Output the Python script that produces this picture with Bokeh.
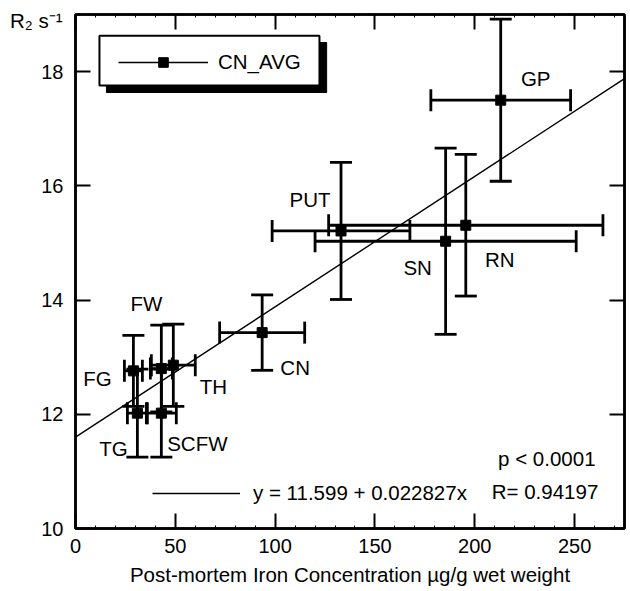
from bokeh.plotting import figure
from bokeh.models import (ColumnDataSource, Whisker, TeeHead, Range1d, LinearAxis, FixedTicker,
                          Legend, LegendItem, Label, BoxAnnotation)
from bokeh.core.properties import value
from bokeh.embed import file_html
from bokeh.resources import INLINE

# ---------------- data ----------------
regions = ["GP", "PUT", "SN", "RN", "CN", "TH", "FW", "FG", "TG", "SCFW"]
iron = [213.0, 133.0, 185.4, 195.5, 93.5, 49.0, 43.0, 29.0, 31.0, 43.0]       # µg/g wet weight
iron_sd = [35.0, 34.5, 65.4, 68.7, 21.3, 11.0, 5.5, 4.5, 5.0, 7.5]
r2 = [17.50, 15.21, 15.03, 15.31, 13.43, 12.86, 12.80, 12.76, 12.02, 12.02]   # R2 s^-1
r2_sd = [1.42, 1.20, 1.63, 1.24, 0.66, 0.72, 0.76, 0.62, 0.77, 0.77]
x_ticks = [0, 50, 100, 150, 200, 250]
x_minor_ticks = [0, 10, 20, 30, 40, 50, 60, 70, 80, 90, 100, 110, 120, 130, 140, 150,
                 160, 170, 180, 190, 200, 210, 220, 230, 240, 250, 260, 270]
y_ticks = [10, 12, 14, 16, 18]
fit_intercept = 11.599
fit_slope = 0.022827
fit_r = 0.94197
p_text = "p < 0.0001"
series_name = "CN_AVG"
x_title = "Post-mortem Iron Concentration \u00b5g/g wet weight"
y_title = "R\u2082 s\u207b\u00b9"

# label offsets (screen px) of the region names from their points
label_dx = [35, -31, -28, 34, 33, 40, -15, -36, -24, 36]
label_dy = [-22, -31, 26, 34, 35, 21, -65, 8, 35, 30]

FONT = "Liberation Sans"
FS = "20.5px"

src = ColumnDataSource(dict(
    name=regions, iron=iron, r2=r2,
    x_lo=[v - e for v, e in zip(iron, iron_sd)],
    x_hi=[v + e for v, e in zip(iron, iron_sd)],
    y_lo=[v - e for v, e in zip(r2, r2_sd)],
    y_hi=[v + e for v, e in zip(r2, r2_sd)],
    dx=label_dx, dy=label_dy,
))

p = figure(width=630, height=591, output_backend="svg", toolbar_location=None,
           x_range=Range1d(0, 275), y_range=Range1d(10, 19),
           min_border_left=75, min_border_right=6, min_border_top=14, min_border_bottom=63,
           background_fill_color="white", border_fill_color="white")
p.xgrid.visible = False
p.ygrid.visible = False
p.outline_line_color = "black"
p.outline_line_width = 2.5


def style(ax, labels=True, minor=True):
    ax.axis_line_color = "black"
    ax.axis_line_width = 2.5
    ax.major_tick_in = 15
    ax.major_tick_out = 0
    ax.major_tick_line_width = 2
    ax.major_tick_line_color = "black"
    if minor:
        ax.minor_tick_in = 3
        ax.minor_tick_out = 0
        ax.minor_tick_line_width = 1
        ax.minor_tick_line_color = "black"
    else:
        ax.minor_tick_line_color = None
    ax.major_label_text_font = FONT
    if labels:
        ax.major_label_text_color = "black"
        ax.major_label_text_font_size = "20px"
    else:
        ax.major_label_text_font_size = "1px"
        ax.major_label_text_color = None
        ax.major_label_text_alpha = 0
        ax.major_label_standoff = 0


xa = p.xaxis[0]
xa.ticker = FixedTicker(ticks=x_ticks, minor_ticks=x_minor_ticks)
style(xa)
xa.major_label_standoff = 10
xa.axis_label = x_title
xa.axis_label_text_font = FONT
xa.axis_label_text_font_size = FS
xa.axis_label_text_font_style = "normal"
xa.axis_label_text_color = "black"
xa.axis_label_standoff = 7

ya = p.yaxis[0]
ya.ticker = FixedTicker(ticks=y_ticks, minor_ticks=[])
style(ya, minor=False)
ya.major_label_standoff = 12

top = LinearAxis(ticker=FixedTicker(ticks=x_ticks, minor_ticks=x_minor_ticks))
style(top, labels=False)
p.add_layout(top, "above")
right = LinearAxis(ticker=FixedTicker(ticks=y_ticks, minor_ticks=[]))
style(right, labels=False, minor=False)
p.add_layout(right, "right")

# y title "R2 s-1" drawn as the single label of an extra, line-less left axis near the top
title_pos = 18.9
ytitle_axis = LinearAxis(ticker=FixedTicker(ticks=[title_pos], minor_ticks=[]),
                         major_label_overrides={title_pos: y_title},
                         axis_line_color=None, major_tick_line_color=None,
                         minor_tick_line_color=None, major_tick_in=0, major_tick_out=0,
                         major_label_standoff=-24, major_label_text_font=FONT,
                         major_label_text_font_size=FS, major_label_text_color="black")
p.add_layout(ytitle_axis, "left")

# regression line from the printed equation
x_fit = [p.x_range.start, p.x_range.end]
y_fit = [fit_intercept + fit_slope * v for v in x_fit]
fit = p.line(x_fit, y_fit, line_color="black", line_width=1.4)

# error bars
head = dict(size=22, line_width=2.8, line_color="black")
p.add_layout(Whisker(source=src, base="iron", lower="y_lo", upper="y_hi", dimension="height",
                     line_width=2.8, line_color="black",
                     upper_head=TeeHead(**head), lower_head=TeeHead(**head)))
p.add_layout(Whisker(source=src, base="r2", lower="x_lo", upper="x_hi", dimension="width",
                     line_width=2.8, line_color="black",
                     upper_head=TeeHead(**head), lower_head=TeeHead(**head)))

pts = p.scatter("iron", "r2", source=src, marker="square", size=10,
                fill_color="black", line_color="black")

p.text(x="iron", y="r2", text="name", x_offset="dx", y_offset="dy", source=src,
       text_font=value(FONT), text_font_size=value(FS), text_color="black",
       text_align="center", text_baseline="middle")

# legend box with drop shadow
p.add_layout(BoxAnnotation(left=15.5, right=125.8, top=18.51, bottom=17.634,
                           fill_color="black", fill_alpha=1, line_color="black",
                           line_alpha=1, line_width=1))
p.add_layout(BoxAnnotation(left=12.0, right=122.2, top=18.63, bottom=17.757,
                           fill_color="white", fill_alpha=1, line_color="black",
                           line_alpha=1, line_width=2))

leg_common = dict(background_fill_alpha=0, border_line_color=None, padding=0, margin=0,
                  spacing=0, label_text_font=FONT, label_text_font_size=FS,
                  label_text_color="black", glyph_height=24, label_height=24)

leg1 = Legend(items=[LegendItem(label=series_name, renderers=[fit, pts])],
              location=(43, 454), glyph_width=90, label_standoff=10, **leg_common)
p.add_layout(leg1, "center")

eq = "y = %.3f + %.6fx" % (fit_intercept, fit_slope)
leg2 = Legend(items=[LegendItem(label=eq, renderers=[fit])],
              location=(77, 23), glyph_width=88, label_standoff=13, **leg_common)
p.add_layout(leg2, "center")

p.add_layout(Label(x=208.5, y=10.64, text="R= %.5f" % fit_r, text_font=FONT,
                   text_font_size=FS, text_color="black", text_baseline="alphabetic"))
p.add_layout(Label(x=260.5, y=11.23, text=p_text, text_font=FONT, text_font_size=FS,
                   text_color="black", text_align="right", text_baseline="alphabetic"))

open("out.html", "w").write(file_html(p, INLINE))
